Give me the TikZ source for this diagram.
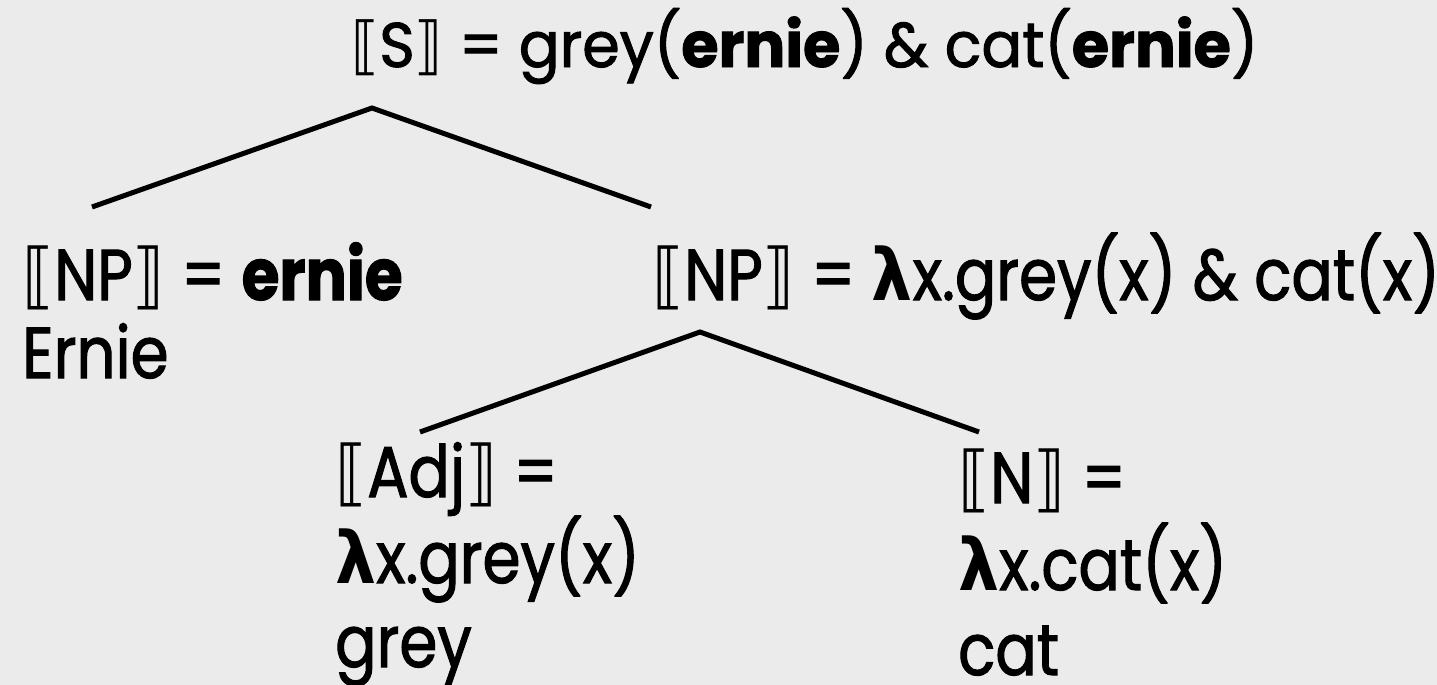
\documentclass[tikz,border=0pt]{standalone}
\usepackage{fontspec}
\setmainfont{Poppins}[FakeStretch=0.85, FakeBold=1.5]
\newfontfamily\topfont{Poppins}[FakeStretch=0.96, FakeBold=1.5]
\newfontfamily\symfont{DejaVu Sans}[FakeStretch=0.9]
\definecolor{canvas}{HTML}{EBEBEB}
% semantic-value brackets and lambda come from DejaVu Sans
\newcommand{\sem}[1]{{\symfont ⟦}#1{\symfont ⟧}}
\newcommand{\lam}{{\symfont\bfseries λ}}
\begin{document}
\begin{tikzpicture}[x=1pt,y=-1pt,
  toplbl/.style={anchor=base west, inner sep=0pt, font=\topfont\fontsize{63}{70}\selectfont},
  lbl/.style={anchor=base west, inner sep=0pt, font=\fontsize{72}{80}\selectfont},
  branch/.style={line width=5pt, line join=miter}]
  \fill[canvas] (0,0) rectangle (1437,685);
  \useasboundingbox (0,0) rectangle (1437,685);

  % root
  \node[toplbl] (S) at (351,67) {\sem{S} = grey(\textbf{ernie}) \& cat(\textbf{ernie})};

  % subject and predicate NPs
  \node[lbl] (NPl) at (22,300) {\sem{NP} = \textbf{ernie}};
  \node[lbl] (Ernie) at (22,378) {Ernie};
  \node[lbl] (NPr) at (652,300) {\sem{NP} = \lam x.grey(x) \& cat(x)};

  % adjective and noun
  \node[lbl] (Adj) at (335,497) {\sem{Adj} =};
  \node[lbl] (AdjVal) at (335,583) {\lam x.grey(x)};
  \node[lbl] (AdjWord) at (335,667) {grey};
  \node[lbl] (N) at (958,503) {\sem{N} =};
  \node[lbl] (NVal) at (958,590) {\lam x.cat(x)};
  \node[lbl] (NWord) at (958,675) {cat};

  % branch points
  \coordinate (sroot) at (372,108);
  \coordinate (npl) at (92,207);
  \coordinate (npr) at (651,207);
  \coordinate (nproot) at (700,332);
  \coordinate (adj) at (420,432);
  \coordinate (n) at (979,432);

  \draw[branch] (npl) -- (sroot) -- (npr);
  \draw[branch] (adj) -- (nproot) -- (n);
\end{tikzpicture}
\end{document}
